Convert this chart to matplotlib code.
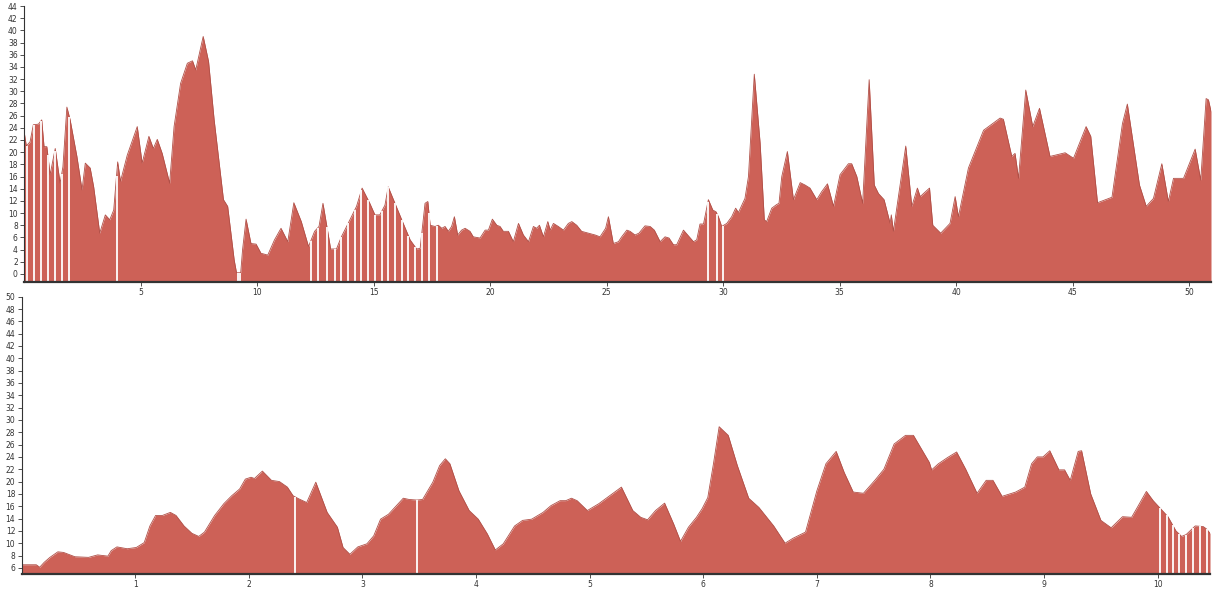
import numpy as np
import matplotlib
matplotlib.use("Agg")
from matplotlib import pyplot as plt

# top chart: distance vs value
top_x = [0.0, 0.1, 0.26, 0.40, 0.62, 0.76, 0.86, 0.98, 1.12, 1.34, 1.55, 1.67, 1.84, 1.98,
         2.27, 2.49, 2.63, 2.84, 2.99, 3.25, 3.49, 3.68, 3.85, 4.02, 4.14, 4.43, 4.86, 5.07,
         5.36, 5.55, 5.72, 5.93, 6.25, 6.44, 6.72, 7.01, 7.23, 7.37, 7.69, 7.92, 8.16, 8.56,
         8.74, 9.02, 9.12, 9.30, 9.38, 9.53, 9.74, 9.96, 10.17, 10.46, 10.75, 11.03, 11.32,
         11.58, 11.90, 12.21, 12.47, 12.66, 12.83, 13.16, 13.41, 13.62, 13.91, 14.27, 14.51,
         14.84, 15.06, 15.27, 15.49, 15.63, 15.92, 16.21, 16.57, 16.85, 17.0, 17.21, 17.33,
         17.43, 17.64, 17.78, 17.93, 18.07, 18.21, 18.35, 18.47, 18.61, 18.78, 18.93, 19.14,
         19.28, 19.57, 19.79, 19.93, 20.10, 20.29, 20.43, 20.57, 20.79, 21.0, 21.22, 21.43,
         21.65, 21.86, 22.0, 22.12, 22.29, 22.48, 22.58, 22.72, 22.93, 23.15, 23.36, 23.51,
         23.72, 23.93, 24.22, 24.51, 24.72, 24.96, 25.08, 25.29, 25.51, 25.65, 25.87, 26.01,
         26.22, 26.39, 26.65, 26.87, 27.05, 27.30, 27.51, 27.68, 27.87, 28.01, 28.30, 28.48,
         28.73, 28.87, 29.01, 29.16, 29.37, 29.56, 29.70, 29.80, 29.94, 30.16, 30.37, 30.54,
         30.66, 30.94, 31.09, 31.34, 31.59, 31.77, 31.87, 32.09, 32.30, 32.40, 32.52, 32.76,
         33.02, 33.31, 33.52, 33.73, 34.02, 34.23, 34.48, 34.74, 35.02, 35.38, 35.52, 35.74,
         35.99, 36.27, 36.49, 36.67, 36.91, 37.17, 37.22, 37.31, 37.84, 38.10, 38.34, 38.46,
         38.60, 38.86, 39.0, 39.34, 39.74, 39.96, 40.10, 40.53, 41.18, 41.89, 42.03, 42.39,
         42.53, 42.68, 42.99, 43.29, 43.58, 44.03, 44.68, 45.04, 45.58, 45.78, 46.07, 46.69,
         47.14, 47.35, 47.87, 48.16, 48.47, 48.83, 49.11, 49.33, 49.76, 50.26, 50.50, 50.73,
         50.83, 50.94]
top_y = [23.5, 21.0, 21.7, 24.5, 24.6, 25.3, 20.9, 20.9, 16.3, 20.6, 14.9, 17.6, 27.4, 25.3,
         19.3, 13.8, 18.2, 17.4, 14.3, 6.7, 9.7, 8.9, 10.5, 18.4, 15.2, 19.5, 24.2, 18.2,
         22.6, 20.6, 22.1, 19.8, 14.9, 24.2, 31.3, 34.6, 35.0, 33.5, 39.0, 34.9, 25.3, 12.2,
         11.1, 2.3, 0.2, 0.2, 4.0, 9.0, 5.0, 4.9, 3.4, 3.1, 5.6, 7.5, 5.3,
         11.7, 8.6, 4.5, 7.0, 7.8, 11.6, 4.1, 4.1, 6.1, 8.3, 11.1, 14.1,
         11.6, 9.7, 9.7, 11.3, 14.3, 11.6, 8.9, 5.6, 4.1, 4.2, 11.6, 11.9,
         8.0, 7.8, 8.0, 7.5, 7.8, 7.0, 7.8, 9.4, 6.4, 7.2, 7.5, 7.0,
         6.1, 5.9, 7.2, 7.2, 9.0, 8.0, 7.8, 7.0, 7.0, 5.3, 8.3, 6.4,
         5.3, 7.8, 7.5, 8.0, 6.1, 8.6, 7.2, 8.3, 7.8, 7.2, 8.3, 8.6,
         8.0, 7.0, 6.7, 6.4, 6.1, 7.5, 9.4, 5.0, 5.3, 6.1, 7.2, 7.0,
         6.4, 6.7, 7.9, 7.8, 7.2, 5.3, 6.1, 5.9, 4.8, 4.8, 7.2, 6.4,
         5.3, 5.6, 8.2, 8.2, 12.2, 10.5, 10.2, 9.4, 7.8, 8.3, 9.4, 10.8,
         10.1, 12.4, 16.0, 32.8, 21.5, 8.9, 8.6, 10.8, 11.4, 11.6, 16.0, 20.1,
         12.2, 15.0, 14.6, 14.1, 12.2, 13.5, 14.8, 11.1, 16.3, 18.1, 18.1, 16.0,
         11.6, 31.9, 14.6, 13.2, 12.2, 8.3, 9.7, 7.0, 21.0, 11.1, 14.1, 12.7,
         13.2, 14.1, 8.0, 6.7, 8.3, 12.7, 9.4, 17.4, 23.6, 25.6, 25.4, 19.3,
         19.8, 15.7, 30.2, 24.2, 27.2, 19.3, 19.9, 19.0, 24.2, 22.6, 11.7, 12.6,
         24.7, 27.9, 14.6, 11.1, 12.4, 18.1, 11.9, 15.7, 15.7, 20.5, 15.4, 28.8,
         28.6, 26.7]
top_gaps = [0.12, 0.42, 0.72, 1.02, 1.32, 1.62, 1.95, 3.97, 9.17, 9.25, 12.3, 12.6, 13.0,
            13.33, 13.62, 13.91, 14.2, 14.48, 14.77, 15.06, 15.35, 15.63, 15.92, 16.21,
            16.5, 16.78, 17.07, 17.38, 17.72, 29.35, 29.75, 30.0]

# bottom chart
bot_x = [0.0, 0.13, 0.16, 0.20, 0.25, 0.32, 0.37, 0.47, 0.59, 0.67, 0.76, 0.79, 0.84, 0.93,
         1.01, 1.08, 1.13, 1.18, 1.24, 1.31, 1.36, 1.43, 1.50, 1.56, 1.61, 1.70, 1.78, 1.85,
         1.92, 1.97, 2.02, 2.05, 2.12, 2.20, 2.27, 2.34, 2.39, 2.44, 2.51, 2.59, 2.69, 2.78,
         2.83, 2.89, 2.96, 3.04, 3.10, 3.16, 3.23, 3.30, 3.36, 3.41, 3.48, 3.53, 3.62, 3.68,
         3.73, 3.77, 3.85, 3.94, 4.02, 4.10, 4.17, 4.24, 4.34, 4.41, 4.49, 4.59, 4.66, 4.74,
         4.79, 4.84, 4.89, 4.98, 5.08, 5.28, 5.38, 5.45, 5.51, 5.58, 5.66, 5.74, 5.80, 5.87,
         5.94, 5.99, 6.04, 6.09, 6.14, 6.22, 6.30, 6.40, 6.49, 6.62, 6.72, 6.79, 6.90, 7.00,
         7.08, 7.17, 7.24, 7.32, 7.41, 7.51, 7.59, 7.68, 7.78, 7.85, 7.92, 7.99, 8.01, 8.07,
         8.15, 8.23, 8.31, 8.41, 8.49, 8.55, 8.63, 8.75, 8.83, 8.89, 8.94, 8.99, 9.05, 9.13,
         9.18, 9.23, 9.30, 9.33, 9.41, 9.50, 9.59, 9.69, 9.77, 9.82, 9.90, 9.96, 10.02, 10.09,
         10.16, 10.21, 10.25, 10.33, 10.40, 10.43, 10.46]
bot_y = [6.5, 6.5, 6.1, 6.9, 7.7, 8.6, 8.5, 7.8, 7.7, 8.1, 7.9, 8.8, 9.4, 9.1,
         9.3, 10.1, 12.8, 14.5, 14.5, 15.0, 14.5, 12.8, 11.6, 11.1, 11.8, 14.5, 16.4, 17.7,
         18.8, 20.4, 20.7, 20.5, 21.7, 20.2, 20.0, 19.1, 17.7, 17.2, 16.6, 19.9, 15.0, 12.6,
         9.3, 8.2, 9.4, 9.9, 11.2, 13.9, 14.7, 16.1, 17.3, 17.1, 17.0, 17.1, 19.9, 22.6,
         23.7, 22.9, 18.5, 15.3, 13.9, 11.5, 8.9, 9.9, 12.8, 13.7, 13.9, 15.0, 16.1, 16.9,
         16.9, 17.3, 16.9, 15.3, 16.4, 19.1, 15.3, 14.2, 13.8, 15.3, 16.5, 13.1, 10.3, 12.6,
         14.2, 15.6, 17.4, 22.9, 28.9, 27.5, 22.6, 17.3, 15.8, 12.8, 10.0, 10.8, 11.8, 18.5,
         22.9, 24.9, 21.5, 18.3, 18.1, 20.2, 22.0, 26.1, 27.5, 27.5, 25.3, 23.1, 21.9, 22.9,
         23.9, 24.8, 22.0, 18.1, 20.2, 20.2, 17.6, 18.3, 19.1, 22.9, 24.0, 24.0, 25.0, 21.9,
         21.9, 20.2, 24.9, 25.0, 18.0, 13.7, 12.5, 14.3, 14.2, 15.8, 18.4, 16.9, 15.7, 14.3,
         12.0, 11.1, 11.4, 12.8, 12.7, 12.3, 11.6]
bot_gaps = [2.41, 3.48, 10.02, 10.08, 10.13, 10.19, 10.25, 10.31, 10.37, 10.43]

fill = "#cd6157"
edge = "#b04f47"
ink = "#333333"

fig = plt.figure(figsize=(12.17, 6.12), dpi=100)
ax1 = fig.add_axes([24 / 1217, 1 - 282 / 612, 1187 / 1217, 276 / 612])
ax2 = fig.add_axes([21.5 / 1217, 1 - 574 / 612, 1188.5 / 1217, 277.3 / 612])


def area(ax, x, y, gaps, ylo, yhi, xhi, yticks, xticks):
    ax.fill_between(x, y, ylo, color=fill, lw=0)
    ax.plot(x, y, color=edge, lw=0.6)
    ax.vlines(gaps, ylo, np.interp(gaps, x, y), color="white", lw=1.3)
    ax.set_xlim(0, xhi)
    ax.set_ylim(ylo, yhi)
    ax.set_yticks(yticks)
    ax.set_xticks(xticks)
    for s in ["top", "right"]:
        ax.spines[s].set_visible(False)
    ax.spines["left"].set_color(ink)
    ax.spines["left"].set_linewidth(0.8)
    ax.spines["bottom"].set_color(ink)
    ax.spines["bottom"].set_linewidth(1.6)
    ax.tick_params(axis="both", labelsize=5.5, colors=ink, length=3, width=0.6, pad=1.5)


area(ax1, top_x, top_y, top_gaps, -1.32, 44, 50.94,
     np.arange(0, 45, 2), [5, 10, 15, 20, 25, 30, 35, 40, 45, 50])
area(ax2, bot_x, bot_y, bot_gaps, 5, 50, 10.46,
     np.arange(6, 51, 2), [1, 2, 3, 4, 5, 6, 7, 8, 9, 10])

fig.savefig("out.png", dpi=100)
